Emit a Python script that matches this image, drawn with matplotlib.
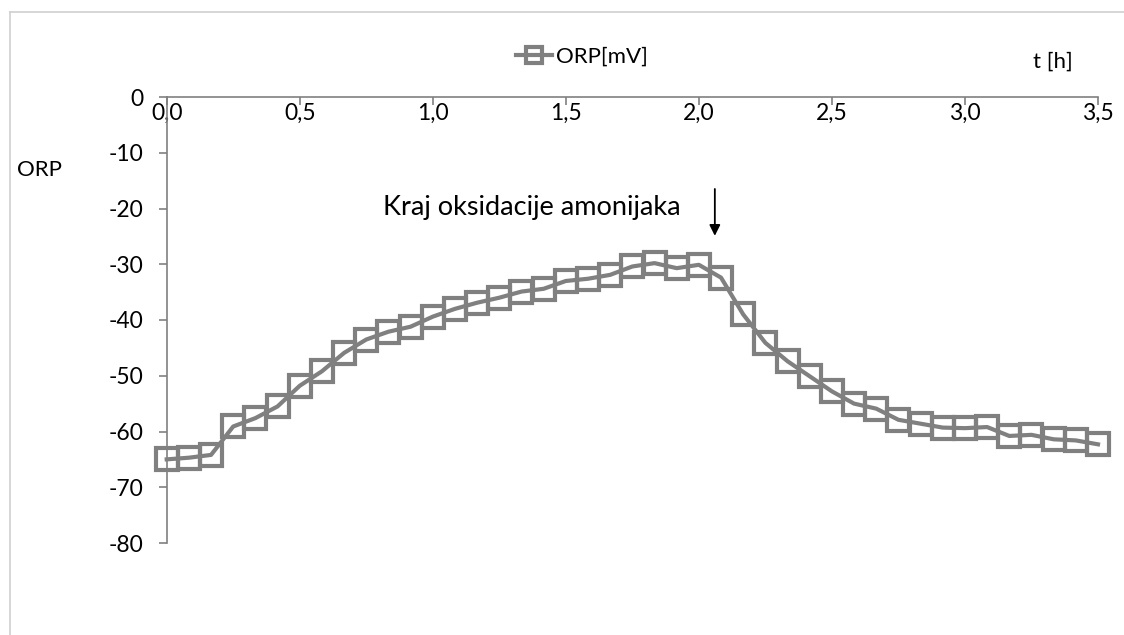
import matplotlib
matplotlib.use("Agg")
import matplotlib.pyplot as plt
from matplotlib.lines import Line2D
from matplotlib.ticker import FuncFormatter

plt.rcParams["font.family"] = ["Lato", "DejaVu Sans"]
plt.rcParams["axes.unicode_minus"] = False

# one reading every 5 minutes
time_h = [i * 5 / 60 for i in range(43)]
orp_mv = [
    -65.0, -64.7, -64.2, -59.1, -57.6, -55.5, -51.8, -49.2, -45.9, -43.5,
    -42.1, -41.2, -39.4, -38.0, -36.9, -36.0, -34.9, -34.4, -33.0, -32.6,
    -31.9, -30.4, -29.8, -30.7, -30.1, -32.4, -39.0, -44.1, -47.4, -50.1,
    -52.8, -55.0, -55.9, -57.9, -58.6, -59.3, -59.4, -59.2, -60.8, -60.6,
    -61.4, -61.6, -62.3,
]
x_ticks = [0.0, 0.5, 1.0, 1.5, 2.0, 2.5, 3.0, 3.5]
y_ticks = [0, -10, -20, -30, -40, -50, -60, -70, -80]

GREY = "#808080"
W, H = 1124, 635

fig = plt.figure(figsize=(W / 100, H / 100), dpi=100)
ax = fig.add_axes([166.7 / W, (H - 543) / H, (1098 - 166.7) / W, (543 - 97) / H])

ax.plot(
    time_h,
    orp_mv,
    color=GREY,
    linewidth=3,
    marker="s",
    markersize=15.5,
    markerfacecolor="none",
    markeredgecolor=GREY,
    markeredgewidth=3,
    label="ORP[mV]",
    clip_on=False,
)

ax.set_xlim(0, 3.5)
ax.set_ylim(-80, 0)

# x axis runs along y = 0, which is the top of the plot
for side in ["right", "top"]:
    ax.spines[side].set_visible(False)
ax.spines["bottom"].set_position(("data", 0))
for side in ["left", "bottom"]:
    ax.spines[side].set_color(GREY)
    ax.spines[side].set_linewidth(1.2)

ax.set_xticks(x_ticks)
ax.set_yticks(y_ticks)
ax.xaxis.set_major_formatter(FuncFormatter(lambda v, p: "{:.1f}".format(v).replace(".", ",")))
ax.yaxis.set_major_formatter(FuncFormatter(lambda v, p: "{:d}".format(int(round(v)))))
ax.tick_params(axis="x", direction="out", length=6, width=1.2, color=GREY,
               labelsize=16.5, pad=-2)
ax.tick_params(axis="y", direction="out", length=6, width=1.2, color=GREY,
               labelsize=16.5, pad=11)

ax.text(1.93, -19.9, "Kraj oksidacije amonijaka", fontsize=19.5,
        ha="right", va="center")
ax.annotate("", xy=(2.06, -25.4), xytext=(2.06, -16.0),
            arrowprops=dict(arrowstyle="-|>", color="black", lw=1.3,
                            mutation_scale=16))

fig.text(1033 / W, 1 - 62 / H, "t [h]", fontsize=16, ha="left", va="center")
fig.text(17 / W, 1 - 170 / H, "ORP", fontsize=16, ha="left", va="center")

leg = fig.legend(
    handles=[Line2D([], [], color=GREY, linewidth=3, marker="s", markersize=11,
                    markerfacecolor="none", markeredgewidth=3)],
    labels=["ORP[mV]"],
    loc="center",
    bbox_to_anchor=(582 / W, 1 - 57 / H),
    frameon=False,
    fontsize=16,
    handlelength=1.6,
    handletextpad=0.2,
)

# light chart border (left and top edges visible)
fig.add_artist(Line2D([10 / W, 10 / W], [0, 1 - 12 / H], color="#d0d0d0",
                      linewidth=1.2, transform=fig.transFigure))
fig.add_artist(Line2D([10 / W, 1], [1 - 12 / H, 1 - 12 / H], color="#d0d0d0",
                      linewidth=1.2, transform=fig.transFigure))

fig.savefig("out.png", dpi=100)
